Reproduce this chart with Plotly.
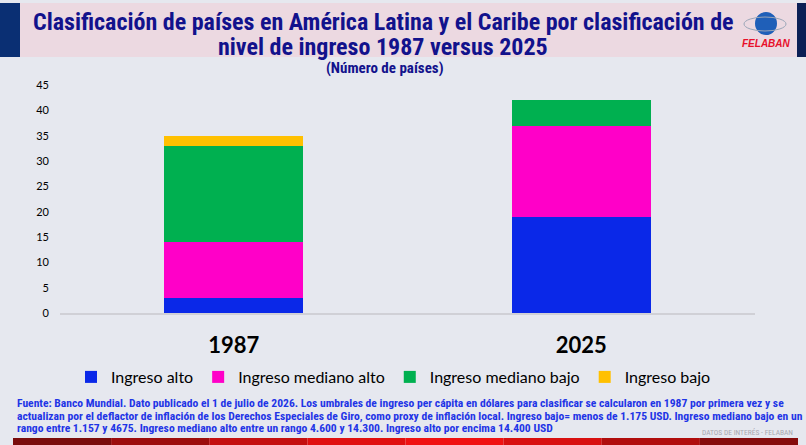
import plotly.graph_objects as go

anios = ["1987", "2025"]
ingreso_alto = [3, 19]
ingreso_mediano_alto = [11, 18]
ingreso_mediano_bajo = [19, 5]
ingreso_bajo = [2, 0]

series = [
    ("Ingreso alto", ingreso_alto, "#0a28e8"),
    ("Ingreso mediano alto", ingreso_mediano_alto, "#ff00c8"),
    ("Ingreso mediano bajo", ingreso_mediano_bajo, "#00b050"),
    ("Ingreso bajo", ingreso_bajo, "#ffc000"),
]

fig = go.Figure()
for nombre, valores, color in series:
    fig.add_trace(go.Bar(x=anios, y=valores, name=nombre, marker_color=color,
                         marker_line_width=0))

titulo_font = "Liberation Sans Narrow, Arial Narrow, Roboto Condensed, Liberation Sans"
titulo = [
    "Clasificación de países en América Latina y el Caribe por clasificación de",
    "nivel de ingreso 1987 versus 2025",
]
nota = [
    "Fuente: Banco Mundial. Dato publicado el 1 de julio de 2026. Los umbrales de ingreso per cápita en dólares para clasificar se calcularon en 1987 por primera vez y se",
    "actualizan por el deflactor de inflación de los Derechos Especiales de Giro, como proxy de inflación local. Ingreso bajo= menos de 1.175 USD. Ingreso mediano bajo en un",
    "rango entre 1.157 y 4675. Ingreso mediano alto entre un rango 4.600 y 14.300. Ingreso alto por encima 14.400 USD",
]


# pixeles de la figura -> coordenadas paper (area de trazado 60..755 x 85..313)
def px_x(x):
    return (x - 60) / 695


def px_y(y):
    return (313 - y) / 228


shapes = [
    # banda del titulo
    dict(type="rect", xref="paper", yref="paper", x0=px_x(0), x1=px_x(806),
         y0=px_y(3), y1=px_y(57), fillcolor="#ecd9e1", line_width=0, layer="below"),
    dict(type="rect", xref="paper", yref="paper", x0=px_x(0), x1=px_x(20),
         y0=px_y(3), y1=px_y(57), fillcolor="#0a2f73", line_width=0, layer="below"),
    dict(type="rect", xref="paper", yref="paper", x0=px_x(797), x1=px_x(806),
         y0=px_y(3), y1=px_y(57), fillcolor="#0b1f55", line_width=0, layer="below"),
    # logo
    dict(type="circle", xref="paper", yref="paper", x0=px_x(755), x1=px_x(777),
         y0=px_y(12), y1=px_y(35), fillcolor="#1f5fb8", line_width=0),
    dict(type="circle", xref="paper", yref="paper", x0=px_x(744), x1=px_x(786),
         y0=px_y(17), y1=px_y(31), line=dict(color="#9aa6b8", width=1)),
]
# barra inferior roja
rojos = ["#7a0c0c", "#9c0d0d", "#c40f0f", "#e01010", "#f01212", "#d81010", "#b00d0d", "#860b0b"]
ancho = (798 - 13) / len(rojos)
for i, c in enumerate(rojos):
    shapes.append(dict(type="rect", xref="paper", yref="paper",
                       x0=px_x(13 + i * ancho), x1=px_x(13 + (i + 1) * ancho),
                       y0=px_y(438), y1=px_y(445), fillcolor=c, line_width=0))

annotations = [
    dict(text="<b>(Número de países)</b>", x=px_x(385), y=px_y(68),
         xref="paper", yref="paper", showarrow=False, xanchor="center", yanchor="middle",
         font=dict(family=titulo_font, size=15, color="#12128c")),
    dict(text="<b><i>FELABAN</i></b>", x=px_x(766), y=px_y(43),
         xref="paper", yref="paper", showarrow=False, xanchor="center", yanchor="middle",
         font=dict(family="Liberation Sans", size=10, color="#e8102a")),
    dict(text="DATOS DE INTERÉS - FELABAN", x=px_x(795), y=px_y(433),
         xref="paper", yref="paper", xanchor="right", yanchor="middle", showarrow=False,
         font=dict(family=titulo_font, size=7.5, color="#a8a8b0")),
]
for i, linea in enumerate(titulo):
    annotations.append(dict(text="<b>" + linea + "</b>", x=px_x(383), y=px_y(22 + 25 * i),
                            xref="paper", yref="paper", xanchor="center", yanchor="middle",
                            showarrow=False,
                            font=dict(family=titulo_font, size=24, color="#12128c")))
for i, linea in enumerate(nota):
    annotations.append(dict(text="<b>" + linea + "</b>", x=px_x(15), y=px_y(403 + 12.5 * i),
                            xref="paper", yref="paper", xanchor="left", yanchor="middle",
                            showarrow=False, align="left",
                            font=dict(family=titulo_font, size=11.6, color="#1f35e6")))

fig.update_layout(
    barmode="stack",
    bargap=0.6,
    width=806, height=445,
    margin=dict(l=60, r=51, t=85, b=132),
    paper_bgcolor="#e6e8ef",
    plot_bgcolor="rgba(0,0,0,0)",
    showlegend=True,
    legend=dict(orientation="h", x=px_x(71), y=px_y(360), xanchor="left",
                yanchor="top", font=dict(family="Lato", size=16, color="#000000"),
                bgcolor="rgba(0,0,0,0)", traceorder="normal"),
    xaxis=dict(showgrid=False, showline=True, linecolor="#d0d0d6", linewidth=1.5,
               ticks="", ticklabelstandoff=12,
               tickfont=dict(family="Lato", size=22, color="#000000", weight="bold")),
    yaxis=dict(range=[0, 45], dtick=5, showgrid=False, zeroline=False, showline=False,
               tickfont=dict(family="Lato", size=11, color="#000000"), ticklabelstandoff=10),
    shapes=shapes,
    annotations=annotations,
)

fig.write_html("out.html", config={"displayModeBar": False},
               post_script="document.body.style.margin='0';")
